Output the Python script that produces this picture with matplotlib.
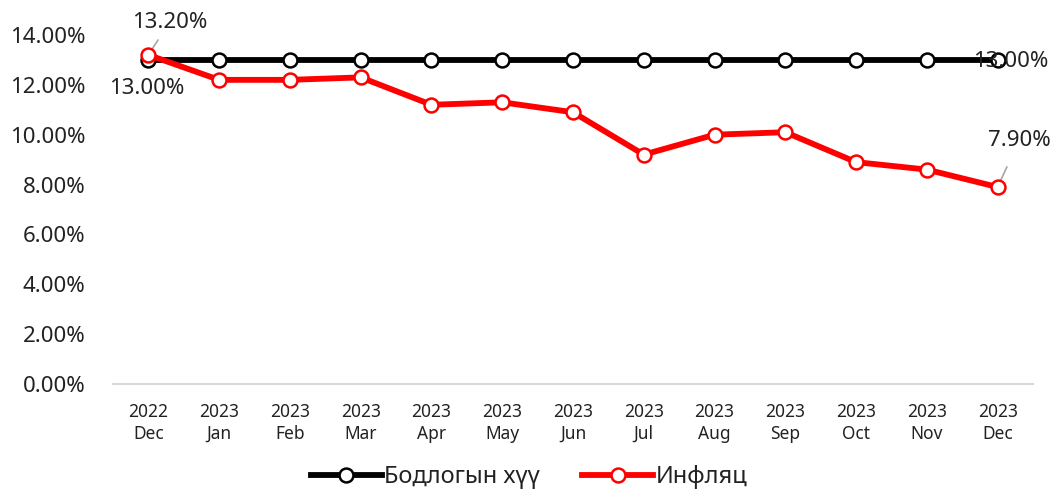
import matplotlib
matplotlib.use("Agg")
import matplotlib.pyplot as plt
from matplotlib.ticker import FuncFormatter

plt.rcParams['font.family'] = ['Noto Sans', 'DejaVu Sans']

years = ["2022", "2023", "2023", "2023", "2023", "2023", "2023",
         "2023", "2023", "2023", "2023", "2023", "2023"]
months = ["Dec", "Jan", "Feb", "Mar", "Apr", "May", "Jun",
          "Jul", "Aug", "Sep", "Oct", "Nov", "Dec"]
policy_rate = [13.0] * 13
inflation = [13.2, 12.2, 12.2, 12.3, 11.2, 11.3, 10.9,
             9.2, 10.0, 10.1, 8.9, 8.6, 7.9]
labels = [y + "\n" + m for y, m in zip(years, months)]

fig = plt.figure(figsize=(10.58, 4.92), dpi=100)
ax = fig.add_axes([0.1068, 0.2195, 0.8696, 0.7094])

x = list(range(len(labels)))
ax.plot(x, policy_rate, color="black", lw=4.2, marker="o", ms=10,
        mfc="white", mec="black", mew=1.8, label="Бодлогын хүү", zorder=3)
ax.plot(x, inflation, color="#ff0000", lw=4.2, marker="o", ms=10,
        mfc="white", mec="#ff0000", mew=1.8, label="Инфляц", zorder=4)

ax.set_xlim(-0.5, len(labels) - 0.5)
ax.set_ylim(0, 14)
ax.set_yticks([0, 2, 4, 6, 8, 10, 12, 14])
ax.yaxis.set_major_formatter(FuncFormatter(lambda v, p: "{:.2f}%".format(v)))
ax.set_xticks(x)
ax.set_xticklabels(labels, fontsize=12.5, color="#222222", linespacing=1.25)
ax.tick_params(axis="y", labelsize=16, colors="#222222", length=0, pad=20)
ax.tick_params(axis="x", length=0, pad=14)

for s in ["top", "right", "left"]:
    ax.spines[s].set_visible(False)
ax.spines["bottom"].set_color("#d9d9d9")
ax.spines["bottom"].set_linewidth(1.5)

# data labels
lab_kw = dict(fontsize=16, color="#222222", ha="center", va="center")
ax.annotate("{:.2f}%".format(inflation[0]), xy=(0, inflation[0]),
            xytext=(0.3, 14.52), textcoords="data",
            arrowprops=dict(arrowstyle="-", color="#a6a6a6", lw=1.2,
                            shrinkA=4, shrinkB=3), **lab_kw)
ax.text(-0.02, 11.85, "{:.2f}%".format(policy_rate[0]), **lab_kw)
ax.text(12.18, 12.95, "{:.2f}%".format(policy_rate[-1]), **lab_kw)
ax.annotate("{:.2f}%".format(inflation[-1]), xy=(12, inflation[-1]),
            xytext=(12.3, 9.75), textcoords="data",
            arrowprops=dict(arrowstyle="-", color="#a6a6a6", lw=1.2,
                            shrinkA=10, shrinkB=3), **lab_kw)

leg = fig.legend(loc="lower center", bbox_to_anchor=(0.5, -0.038), ncol=2,
                 frameon=False, fontsize=17, handlelength=3,
                 handletextpad=0.1, columnspacing=1.8)
for t in leg.get_texts():
    t.set_color("#222222")

fig.savefig("out.png", dpi=100)
